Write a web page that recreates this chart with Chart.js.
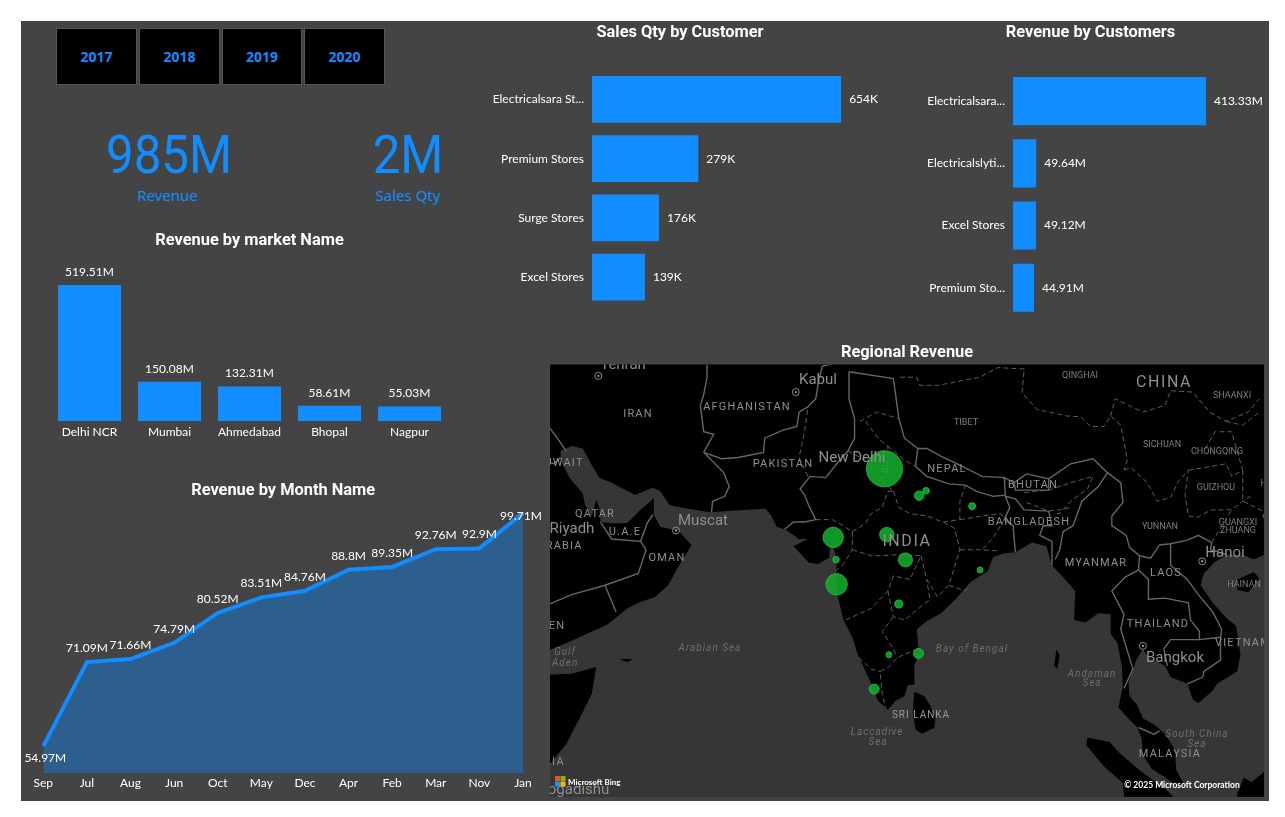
<!DOCTYPE html>
<html><head><meta charset="utf-8">
<script src="https://cdn.jsdelivr.net/npm/chart.js@4"></script>
<style>
html,body{margin:0;padding:0;background:#fff;width:1285px;height:817px;overflow:hidden}
#panel{position:absolute;left:21px;top:21px;width:1248px;height:780px;background:#444444}
canvas{position:absolute;display:block}
.btn{position:absolute;top:28px;height:55px;background:#000;border:1px solid #555;color:#118DFF;font:700 14px "Noto Sans",sans-serif;display:flex;align-items:center;justify-content:center;box-sizing:content-box}
.kpi,.kpil{position:absolute;color:#118DFF;text-align:center;white-space:nowrap}
.kpi{font:400 53px Roboto,sans-serif;line-height:60px;transform:translateX(-50%) scaleX(.93)}
.kpil{font:400 15px "Noto Sans",sans-serif;line-height:20px;transform:translateX(-50%)}
</style></head><body>
<div id="panel"></div>
<div class="btn" style="left:56px;width:79px">2017</div>
<div class="btn" style="left:139px;width:79px">2018</div>
<div class="btn" style="left:222px;width:78px">2019</div>
<div class="btn" style="left:304px;width:79px">2020</div>
<div class="kpi" style="left:168.5px;top:125px">985M</div>
<div class="kpil" style="left:167.5px;top:185px">Revenue</div>
<div class="kpi" style="left:408px;top:125px">2M</div>
<div class="kpil" style="left:408px;top:185px">Sales Qty</div>
<canvas id="cMarket" width="421" height="212" style="left:40px;top:229px"></canvas>
<canvas id="cMonth" width="525" height="316" style="left:21px;top:479px"></canvas>
<canvas id="cQty" width="400" height="301" style="left:480px;top:21px"></canvas>
<canvas id="cCust" width="349" height="313" style="left:916px;top:21px"></canvas>
<canvas id="cMap" width="714" height="456" style="left:550px;top:341px"></canvas>
<script>
// ---------- chart data ----------
const marketNames = ['Delhi NCR','Mumbai','Ahmedabad','Bhopal','Nagpur'];
const marketRevenue = [519.51,150.08,132.31,58.61,55.03];
const monthNames = ['Sep','Jul','Aug','Jun','Oct','May','Dec','Apr','Feb','Mar','Nov','Jan'];
const monthRevenue = [54.97,71.09,71.66,74.79,80.52,83.51,84.76,88.8,89.35,92.76,92.9,99.71];
const qtyCustomers = ['Electricalsara St...','Premium Stores','Surge Stores','Excel Stores'];
const qtyValues = [654,279,176,139];
const revCustomers = ['Electricalsara...','Electricalslyti...','Excel Stores','Premium Sto...'];
const revValues = [413.33,49.64,49.12,44.91];
// map bubbles (city longitude, latitude, revenue in millions)
const cityNames = ['Delhi NCR','Mumbai','Ahmedabad','Bhopal','Nagpur','Kanpur','Lucknow','Patna','Bhubaneshwar','Surat','Hyderabad','Chennai','Bengaluru','Kochi'];
const cityLon = [77.2,72.88,72.58,77.41,79.09,80.33,80.95,85.1,85.82,72.83,78.49,80.27,77.6,76.27];
const cityLat = [28.6,19.08,23.03,23.26,21.15,26.45,26.85,25.6,20.3,21.17,17.39,13.08,12.97,9.93];
const cityRevenue = [519.51,150.08,132.31,58.61,55.03,22,9,10.5,7.3,9,14.5,24.6,7.3,24.6];
const capitals = [[51.4,35.7],[69.2,34.5],[77.2,28.6],[58.4,23.6],[105.85,21.03],[100.5,13.75]];
// map geography: [longitude, latitude]
const landAsia = [[47,13.4],[49,14.2],[51,15.1],[52.2,15.6],[54,17],[55,17.5],[56.5,18],[57.7,19],[58.5,20.4],[59.8,22.4],[58.6,23.6],[57,23.9],[56.4,24.9],[56.4,26.3],[56,25.9],[55.2,25.3],[54,24.2],[52.6,24.2],[51.6,24.3],[51.5,25.5],[51.2,26.1],[50.8,24.8],[50.2,25.7],[50,26.6],[48.8,27.9],[48,29.3],[48,30],[49,30.4],[50,30.2],[50.8,28.9],[51.5,27.9],[52.6,27.5],[54.7,26.5],[56.3,27.1],[57,26.8],[57.8,25.7],[59.5,25.4],[61.5,25.1],[63,25.2],[66.5,25.4],[67,24.8],[67.5,23.9],[68.2,23.7],[69.5,22.9],[70.3,22.9],[69,22.3],[70.4,20.9],[71.2,20.8],[72.2,21.3],[72.3,22.3],[72.6,22.2],[72.9,21.2],[72.8,19.5],[73,18],[73.5,16],[74.3,14.5],[74.8,13],[75.5,11.5],[76.2,10],[76.6,8.9],[77.5,8.1],[78.2,8.9],[79,9.3],[79.3,10.3],[79.9,10.3],[79.9,12],[80.3,13.1],[80.1,15.2],[81,15.9],[82.3,16.6],[83.5,17.7],[85,19.3],[86.5,20.2],[87,21.4],[88,21.7],[89,21.8],[90.5,22.6],[91.8,22.3],[92.3,20.7],[93.5,19.5],[94.4,18.5],[94.3,16],[95.3,15.8],[96.5,16.6],[97.6,16.5],[97.6,14.8],[98.2,14],[98.6,12],[98.7,10.2],[98.3,8.3],[99,7.5],[100,6.5],[100.4,5.5],[100.5,4],[101.3,2.8],[102.5,2],[103.5,1.3],[104.2,1.4],[103.5,2.7],[103.4,4.5],[102.5,5.9],[101.5,6.8],[100.5,7.3],[100,8.5],[99.3,9.3],[99.2,10.5],[99.9,12.5],[100.5,13.5],[101,12.7],[102.5,12],[103,11],[104.5,10.4],[105,9],[105.5,8.7],[106.7,9.7],[107.2,10.4],[109,11.5],[109.3,13],[108.9,15.5],[108,16.2],[106.8,17.5],[105.7,19],[106,20],[107,21],[108.2,21.6],[109.7,21.5],[110.5,21.2],[111.5,21.6],[112,22],[112,41],[46,41],[46,13.4]];
const landSomalia = [[46,10.8],[47,11.2],[49,11.3],[51.2,11.9],[50.8,9.5],[49.8,7.5],[48.5,5],[47,3.2],[46,2.4]];
const landSriLanka = [[79.9,9.7],[80.8,9.3],[81.3,8.5],[81.8,7.4],[81.7,6.5],[80.6,5.95],[80,6.3],[79.8,7.5],[79.8,8.5]];
const landSumatra = [[95.5,5.6],[97.5,5.2],[98.3,4.3],[99.8,3],[100.8,2.2],[102.5,1],[103.5,0],[104,-2],[99,-2],[98.7,1.5],[97,3],[95.4,4.9]];
const landBorneo = [[109.6,2],[110.3,1.6],[111.3,2.4],[112,3],[112,-2],[109,-2],[109,0.5]];
const landHainan = [[109,19.5],[110.5,20.1],[111,19.6],[110,18.4],[109,18.6]];
const landSocotra = [[53.3,12.6],[54.5,12.6],[54,12.3]];
const landAndaman = [[92.7,13.4],[93,13],[92.8,11.7],[92.5,12]];
const borderAfghanIran = [[61.2,37],[61.2,35.6],[60.9,34.3],[60.6,33.5],[60.9,31.5],[61.8,31.3],[60.9,29.9]];
const borderAfghanPak = [[60.9,29.9],[62.5,29.4],[64,29.5],[66.3,29.9],[66.4,31],[68,31.6],[69.3,31.9],[69.5,33],[70.3,33.4],[71,34],[71.3,35.5],[71.6,36.4],[74,36.9]];
const borderIranPak = [[60.9,29.9],[62.7,28.3],[63.2,27.2],[62.8,26.4],[61.7,26],[61.6,25.1]];
const borderPakIndia = [[68.2,23.7],[69,24.3],[70,24.3],[71,24.5],[70.4,25.6],[70,26.5],[69.6,27],[70.5,28],[71.9,27.9],[72.9,29],[73.9,30],[74.5,31],[74.5,32.5],[74,34],[74,36]];
const borderKashmirTibet = [[74,36],[78,35.5],[78.5,32.5],[79,31],[80.2,30.2]];
const borderNepalN = [[80.2,30.2],[81,30.2],[82.5,29.5],[84,28.9],[86,28],[88,27.9]];
const borderNepalS = [[80.2,30.2],[80,28.8],[81,28],[83,27.4],[84.5,27.3],[85.5,26.8],[87,26.4],[88.1,26.5],[88,27.9],[88.9,27.5],[89,26.9],[92,26.9],[92,27.8],[90,28.2],[88.9,27.5]];
const borderIndiaNE = [[92,27.8],[94,29],[96,29.4],[97.3,28.3],[96.5,27.2],[95,26],[94.2,24],[93.3,23.5],[93,22],[92.6,21.2]];
const borderBangladesh = [[89,21.8],[88.9,22.8],[88.8,24],[88,24.5],[88.5,25.5],[88.1,26.4],[89,26.2],[89.8,25.3],[92,25.2],[92.3,24],[91.5,24],[91.2,23.2],[92.3,22.7],[92.3,20.7]];
const borderChinaMyanmar = [[97.3,28.3],[98.5,27.5],[98.7,25.9],[97.7,24.8],[97.7,24],[99,23.2],[99.3,22.2],[100.2,21.5],[101.2,21.3],[102,22.4],[103,22.5],[104.5,22.8],[105.5,23.2],[106.7,22.6],[106.6,22],[108,21.6]];
const borderMyanmarThai = [[100.2,21.5],[100.1,20.3],[98.9,19.7],[97.7,18.5],[98.8,16.5],[98.5,15.2],[99.2,13],[99.6,11.7],[98.8,10]];
const borderThaiLaos = [[100.1,20.3],[101,19.5],[101,17.8],[102.5,17.9],[104.6,17.5],[104.8,16],[105.6,15],[105.6,14.3],[103,14.3],[102.4,13.5],[102.7,12]];
const borderLaosVietnam = [[103,22.5],[103,20.7],[104.5,19.5],[105.5,18.2],[106.8,16.7],[107.6,15.2],[107.5,14.5],[107.5,12.5],[106,11.5],[105.9,11],[104.5,10.4]];
const borderLaosCambodia = [[105.6,14.3],[107.5,14.5]];
const borderThaiMalaysia = [[100.1,6.5],[101.5,5.9],[102,6.2]];
const borderUAE = [[51.6,24.3],[52.6,22.9],[55.2,22.7],[55.7,22],[55,20],[52,19],[49,18.2],[47,17.4]];
const borderUAEOman = [[55.2,22.7],[55.8,24.2],[56.3,24.9]];
const borderYemenOman = [[52,19],[53,16.7]];
const borderIraqIran = [[48.5,30],[47.7,31],[47,31.8]];
const borderKuwait = [[48,29.5],[47.4,29],[47,29.1]];
const dashRajasthan = [[71,24.5],[72.5,24.5],[73.5,24],[74.3,23.5],[75.5,24.2],[76,25],[77,25.5],[77.5,26.8],[78,26.8]];
const dashGujarat = [[72.8,20.2],[73.5,20.8],[74.3,22],[74.3,23.5]];
const dashMPMaha = [[74.3,22],[76,21.5],[77,21.5],[78.5,21.6],[80.5,21.5]];
const dashMPUP = [[78,26.8],[78.5,25.5],[79.5,25],[81,24.8],[82.5,24.3],[84,24.5],[84,26],[84.5,27.3]];
const dashUttarakhand = [[77.5,30.4],[79,29.3],[80,28.8]];
const dashHaryana = [[73.9,30],[75,29.5],[76.5,28.5],[77,27.7],[78,26.8]];
const dashKashmir = [[75,32.3],[76.5,33],[78.5,32.5]];
const dashPunjab = [[75.5,32.3],[76.7,30.9],[77.5,30.4],[77.5,28.5],[77,27.7]];
const dashChhattisgarh = [[80.5,21.5],[81,19.5],[82,18],[83,19],[84,22],[83.5,23.8],[82.5,24.3]];
const dashOdisha = [[83,19],[84.5,18.5],[84.8,19]];
const dashOdishaN = [[84,22],[86,22],[87.4,21.9]];
const dashJharkhand = [[84,24.5],[86,24.8],[87.7,25],[88,24.5],[87,23],[86,22]];
const dashTelangana = [[77.5,18.5],[78,16.3],[79,16],[81.3,17.8],[81,19.5]];
const dashMaha = [[73.7,16],[74.8,16.5],[76,17],[77.5,18.5],[78,19.8],[79.5,19.5],[80.5,21.5]];
const dashKarnataka = [[78,16.3],[77,15],[78,13.5],[78.3,12.7]];
const dashTamil = [[80.2,13.5],[79,13],[78.3,12.7],[77.5,11.8],[76.8,11.5],[77,9.5],[77.3,8.3]];
const dashKerala = [[74.9,12.7],[76,11.7],[76.8,11.5]];
const dashAssam = [[89.8,26.7],[92,26.9],[94,27.5],[96,28],[95.5,27],[94,26],[93,25],[92.5,25]];
const dashManipur = [[90,25.9],[92,25.2],[93,25.3],[94,25.5]];
const dashPunjabPak = [[70.3,28],[69.5,29.5],[70,31.5],[70.3,33.4]];
const dashXinjiang = [[78.6,35.6],[80.1,35.6],[80.4,35],[82,35],[85.8,35.6],[87.4,36.3],[89.8,36.2],[89.6,34.45],[90.95,33.2],[93.7,32.7],[94.9,32.65],[95.8,31.9],[97,31.9],[97.6,32.7],[98.5,32],[99.1,29.3],[98.8,28.5]];
const dashGansu = [[97.6,32.7],[98,34],[100.5,33],[102.5,33.5],[103,34.6],[105,34.5],[106.5,33],[108,32.3],[110,33],[111,34]];
const dashYunnan = [[98.8,28.5],[99.4,28.7],[100.9,27.5],[101.8,26],[103,26.3],[103.7,27.6],[104.6,28.5],[104.3,26.5],[104.6,24.8],[105.5,24.7],[106,25],[106.7,25.3],[108.5,25.3],[109.5,26],[110.2,26.4]];
const dashChongqing = [[104.6,28.5],[106,28.7],[108,29],[108.5,28],[109.5,28.5],[109,30],[108.5,31.5],[107,31.5],[106,30]];
const dashHunan = [[109.5,28.5],[109.5,26],[110,25.8],[111.3,25.2],[111.5,24]];
const dashGuangxi = [[106.7,22.6],[108,24.5],[108.5,25.3]];
const dashShaanxi = [[108,32.3],[109.5,32],[111,33]];
// map place names: text, centre x, centre y (drawn on the chart canvas, page pixels)
const placeLabels = [
 ['Tehran',623,365,'city'],['Kabul',818,380,'city'],['New Delhi',852,458,'city'],['Muscat',703,521,'city'],['Riyadh',572,529,'city'],['Hanoi',1225,553,'city'],['Bangkok',1175,658,'city'],['Mogadishu',572,790,'city'],
 ['IRAN',638,414,'land'],['AFGHANISTAN',747,407,'land'],['PAKISTAN',783,464,'land'],['KUWAIT',560,463,'land'],['QATAR',595,514,'land'],['ARABIA',560,546,'land'],['U.A.E.',627,532,'land'],['OMAN',667,558,'land'],['YEMEN',544,626,'land'],['SOMALIA',537,762,'land'],['NEPAL',947,469,'land'],['BHUTAN',1033,485,'land'],['BANGLADESH',1029,522,'land'],['MYANMAR',1096,563,'land'],['LAOS',1166,573,'land'],['THAILAND',1158,624,'land'],['VIETNAM',1243,643,'land'],['MALAYSIA',1170,754,'land'],['SRI LANKA',921,715,'small'],
 ['INDIA',907,542,'big'],['CHINA',1164,383,'big'],
 ['QINGHAI',1080,376,'prov'],['SHAANXI',1232,396,'prov'],['TIBET',966,423,'prov'],['SICHUAN',1162,445,'prov'],['CHONGQING',1217,452,'prov'],['GUIZHOU',1216,488,'prov'],['HUNAN',1276,484,'prov'],['GUANGXI',1238,523,'prov'],['ZHUANG',1238,531,'prov'],['YUNNAN',1160,527,'prov'],['HAINAN',1244,585,'prov'],
 ['Arabian Sea',710,648,'sea'],['Gulf',565,652,'sea'],['of Aden',558,663,'sea'],['Bay of Bengal',972,649,'sea'],['Andaman',1092,674,'sea'],['Sea',1092,683,'sea'],['Laccadive',877,732,'sea'],['Sea',878,742,'sea'],['South China',1197,734,'sea'],['Sea',1197,744,'sea']
];
// ---------- helpers ----------
Chart.defaults.animation = false;
Chart.defaults.devicePixelRatio = 1;
Chart.defaults.color = '#fff';
Chart.defaults.layout.autoPadding = false;
const LABEL_FONT = 'Lato, sans-serif';
const LABEL_SIZE = 12;
const TITLE_FONT = 'Roboto, sans-serif';
const BLUE = '#118DFF';
const titleOf = (text, bottom) => ({display:true,text,color:'#fff',font:{family:TITLE_FONT,size:16.4,weight:'700',lineHeight:1.2},padding:{top:2,bottom:bottom-2}});
const valueLabels = {
  id:'valueLabels',
  afterDatasetsDraw(chart,args,o){
    const {ctx} = chart; const meta = chart.getDatasetMeta(0); const vals = chart.data.datasets[0].data;
    ctx.save(); ctx.fillStyle='#fff'; ctx.font=LABEL_SIZE+'px '+LABEL_FONT; ctx.textBaseline='middle';
    meta.data.forEach((el,i)=>{
      const t = vals[i]+o.unit;
      if(o.mode==='right'){ ctx.textAlign='left'; ctx.fillText(t,el.x+8,el.y); }
      else if(o.mode==='top'){ ctx.textAlign='center'; ctx.fillText(t,el.x,el.y-13); }
      else {
        ctx.textAlign='center';
        let y = el.y-14, x = el.x;
        if(i===0){ y = el.y+12; x = el.x+2; }
        if(i===vals.length-1){ y = el.y+3; x = el.x-2; }
        ctx.fillText(t,x,y);
      }
    });
    ctx.restore();
  }
};
const fixedSize = px => (s => { if(s.isHorizontal()) s.height = px; else s.width = px; });
const tickOpts = padding => ({font:{family:LABEL_FONT,size:LABEL_SIZE},color:'#fff',padding,maxRotation:0,autoSkip:false});
const noGrid = {display:false,drawTicks:false};
// ---------- market columns ----------
new Chart(document.getElementById('cMarket'),{
  type:'bar',plugins:[valueLabels],
  data:{labels:marketNames,datasets:[{data:marketRevenue,backgroundColor:BLUE,categoryPercentage:1,barPercentage:63/80}]},
  options:{responsive:false,layout:{padding:{left:9.5,right:11.5}},
    plugins:{legend:{display:false},tooltip:{enabled:false},title:titleOf('Revenue by market Name',16.4),valueLabels:{mode:'top',unit:'M'}},
    scales:{x:{afterFit:fixedSize(20),grid:noGrid,border:{display:false},ticks:tickOpts(4)},
            y:{display:false,min:0,max:596}}}
});
// ---------- month area ----------
new Chart(document.getElementById('cMonth'),{
  type:'line',plugins:[valueLabels],
  data:{labels:monthNames,datasets:[{data:monthRevenue,borderColor:BLUE,borderWidth:4,backgroundColor:'#2C5F8D',fill:'start',pointRadius:0,tension:0,clip:false}]},
  options:{responsive:false,layout:{padding:{left:22.3,right:23}},
    plugins:{legend:{display:false},tooltip:{enabled:false},title:titleOf('Revenue by Month Name',4.4),valueLabels:{mode:'line',unit:'M'}},
    scales:{x:{offset:false,afterFit:fixedSize(22),grid:noGrid,border:{display:false},ticks:tickOpts(3)},
            y:{display:false,min:49.8,max:101.6}}}
});
// ---------- horizontal bars ----------
function hbar(id,labels,values,title,pad,axisW,barShare,max,unit){
  new Chart(document.getElementById(id),{
    type:'bar',plugins:[valueLabels],
    data:{labels,datasets:[{data:values,backgroundColor:BLUE,categoryPercentage:1,barPercentage:barShare}]},
    options:{responsive:false,indexAxis:'y',
      plugins:{legend:{display:false},tooltip:{enabled:false},title:titleOf(title,pad),valueLabels:{mode:'right',unit}},
      scales:{y:{afterFit:fixedSize(axisW),grid:noGrid,border:{display:false},ticks:tickOpts(8)},
              x:{display:false,min:0,max}}}
  });
}
hbar('cQty',qtyCustomers,qtyValues,'Sales Qty by Customer',29.15,112,46.5/59,756,'K');
hbar('cCust',revCustomers,revValues,'Revenue by Customers',29.4,97,48/62,539.7,'M');
// ---------- map ----------
const merc = lat => 180/Math.PI*Math.log(Math.tan(Math.PI/4+lat*Math.PI/360));
const toXY = arr => arr.map(([lon,lat])=>({x:lon,y:merc(lat)}));
const land = arr => ({data:toXY(arr),showLine:true,fill:'shape',backgroundColor:'#000',borderColor:'#000',borderWidth:0,pointRadius:0,order:5});
const solid = arr => ({data:toXY(arr),showLine:true,fill:false,borderColor:'#666',borderWidth:1.4,pointRadius:0,order:3});
const dash = arr => ({data:toXY(arr),showLine:true,fill:false,borderColor:'#5e5e5e',borderWidth:1,borderDash:[5,3],pointRadius:0,order:4});
const styles = {
  city:{font:'400 15px Roboto, sans-serif',color:'#8f8f8f',sp:'0px'},
  land:{font:'400 11px Roboto, sans-serif',color:'#8f8f8f',sp:'1.2px'},
  small:{font:'400 10px Roboto, sans-serif',color:'#9a9a9a',sp:'1px'},
  big:{font:'400 16px Roboto, sans-serif',color:'#8f8f8f',sp:'1.6px'},
  prov:{font:'400 9px Roboto, sans-serif',color:'#7e7e7e',sp:'0px'},
  sea:{font:'italic 400 10px Roboto, sans-serif',color:'#6f6f6f',sp:'1px'}
};
const mapDecor = {
  id:'mapDecor',
  beforeDatasetsDraw(chart){
    const {ctx,chartArea:a} = chart;
    ctx.save(); ctx.fillStyle='#363636'; ctx.fillRect(a.left,a.top,a.right-a.left,a.bottom-a.top); ctx.restore();
  },
  afterDatasetsDraw(chart){
    const {ctx,chartArea:a} = chart;
    ctx.save(); ctx.beginPath(); ctx.rect(a.left,a.top,a.right-a.left,a.bottom-a.top); ctx.clip();
    ctx.textAlign='center'; ctx.textBaseline='middle';
    placeLabels.forEach(([t,x,y,k])=>{
      const s = styles[k]; ctx.font=s.font; ctx.fillStyle=s.color; ctx.letterSpacing=s.sp;
      ctx.fillText(t,x-550,y-341);
    });
    ctx.letterSpacing='0px';
    const lx = 5, ly = 776-341;
    [['#F25022',0,0],['#7FBA00',5.5,0],['#00A4EF',0,5.5],['#FFB900',5.5,5.5]].forEach(([c,dx,dy])=>{ctx.fillStyle=c;ctx.fillRect(lx+dx,ly+dy,5,5);});
    ctx.fillStyle='#fff'; ctx.textAlign='left'; ctx.font='700 8px Lato, sans-serif';
    ctx.fillText('Microsoft Bing',18,782-341);
    ctx.font='700 8.5px Lato, sans-serif'; ctx.textAlign='center';
    ctx.fillText('\u00A9 2025 Microsoft Corporation',1182-550,785-341);
    ctx.restore();
  }
};
new Chart(document.getElementById('cMap'),{
  type:'scatter',plugins:[mapDecor],
  data:{datasets:[
    {label:'Revenue',data:cityLon.map((lon,i)=>({x:lon,y:merc(cityLat[i]),rev:cityRevenue[i]})),backgroundColor:'rgba(18,172,44,.88)',borderColor:'rgba(30,190,60,.9)',borderWidth:1,
     pointRadius:c=>18*Math.pow(c.raw.rev/519.51,.42),order:0},
    {data:toXY(capitals),backgroundColor:'rgba(0,0,0,0)',borderColor:'#8a8a8a',borderWidth:1,pointRadius:3.5,order:1},
    {data:toXY(capitals),backgroundColor:'#8a8a8a',borderWidth:0,pointRadius:1.2,order:1},
    ...[borderAfghanIran,borderAfghanPak,borderIranPak,borderPakIndia,borderKashmirTibet,borderNepalN,borderNepalS,borderIndiaNE,borderBangladesh,borderChinaMyanmar,borderMyanmarThai,borderThaiLaos,borderLaosVietnam,borderLaosCambodia,borderThaiMalaysia,borderUAE,borderUAEOman,borderYemenOman,borderIraqIran,borderKuwait].map(solid),
    ...[dashRajasthan,dashGujarat,dashMPMaha,dashMPUP,dashUttarakhand,dashHaryana,dashKashmir,dashPunjab,dashChhattisgarh,dashOdisha,dashOdishaN,dashJharkhand,dashTelangana,dashMaha,dashKarnataka,dashTamil,dashKerala,dashAssam,dashManipur,dashPunjabPak,dashXinjiang,dashGansu,dashYunnan,dashChongqing,dashHunan,dashGuangxi,dashShaanxi].map(dash),
    ...[landAsia,landSomalia,landSriLanka,landSumatra,landBorneo,landHainan,landSocotra,landAndaman].map(land)
  ]},
  options:{responsive:false,
    plugins:{legend:{display:false},tooltip:{enabled:false},title:titleOf('Regional Revenue',3.8)},
    scales:{x:{type:'linear',display:false,min:47.04,max:111.42},y:{type:'linear',display:false,min:0.24,max:39.29}}}
});
</script>
</body></html>
